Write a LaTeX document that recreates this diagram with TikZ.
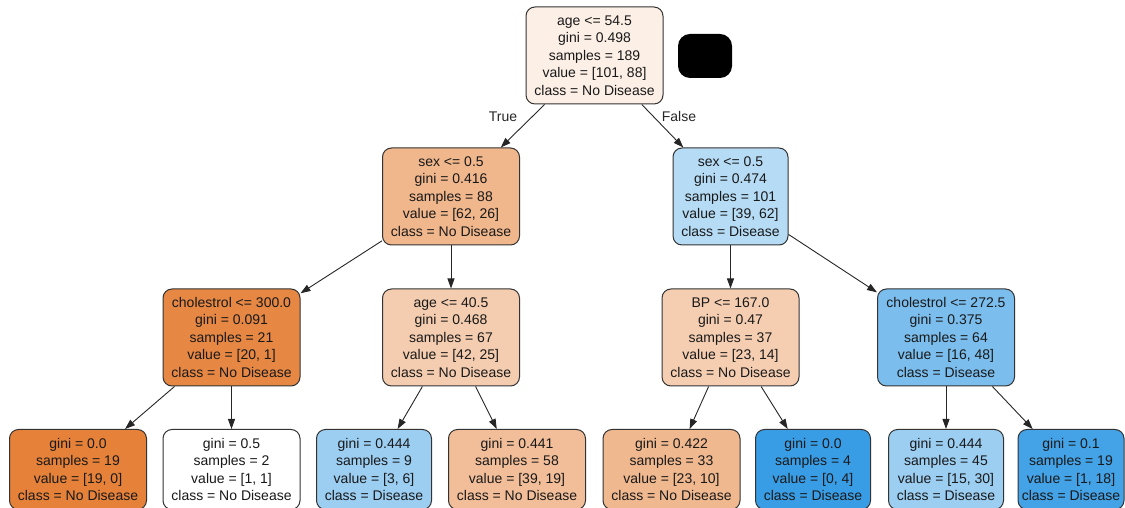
\documentclass[tikz,border=0pt]{standalone}
\usepackage{fontspec}
\setmainfont{Liberation Sans}
\usetikzlibrary{arrows.meta, positioning}
\definecolor{nodis1}{HTML}{FCEFE5}
\definecolor{nodis2}{HTML}{F0B68C}
\definecolor{nodis3}{HTML}{E68744}
\definecolor{nodis4}{HTML}{F4CCAF}
\definecolor{nodis5}{HTML}{F5CEB2}
\definecolor{nodis6}{HTML}{E58139}
\definecolor{nodis7}{HTML}{F2BE99}
\definecolor{nodis8}{HTML}{F0B88F}
\definecolor{dis1}{HTML}{B6DBF5}
\definecolor{dis2}{HTML}{7BBEEE}
\definecolor{dis3}{HTML}{9CCEF2}
\definecolor{dis4}{HTML}{399DE5}
\definecolor{dis5}{HTML}{44A2E6}
\tikzset{
  tnode/.style={rectangle,draw=black!80,line width=1pt,rounded corners=9pt,align=center,inner sep=2pt,text=black!90,font=\fontsize{14}{17.5}\selectfont},
  split/.style={tnode,minimum height=97pt},
  leaf/.style={tnode,minimum height=80pt},
  wide/.style={minimum width=137pt},
  narrow/.style={minimum width=115pt},
  lbl/.style={text=black!85,font=\fontsize{14}{17}\selectfont},
  line/.style={-{Triangle[length=10pt,width=7pt]},line width=0.9pt,draw=black!85}
}

\begin{document}
\begin{tikzpicture}[x=1pt,y=1pt]
\useasboundingbox (0,0) rectangle (1125,508);
\node[split, wide, fill=nodis1] (root) at (594.5,452.5) {age <= 54.5\\gini = 0.498\\samples = 189\\value = [101, 88]\\class = No Disease};
\node[fill=black, rounded corners=12pt, minimum width=54pt, minimum height=44pt, inner sep=0pt] (mask) at (705,452) {};
\node[split, wide, fill=nodis2, below=43pt of root, xshift=-143.5pt] (sexl) {sex <= 0.5\\gini = 0.416\\samples = 88\\value = [62, 26]\\class = No Disease};
\node[split, narrow, fill=dis1, below=43pt of root, xshift=136pt] (sexr) {sex <= 0.5\\gini = 0.474\\samples = 101\\value = [39, 62]\\class = Disease};
\node[split, wide, fill=nodis3, below=43pt of sexl, xshift=-219.5pt] (chola) {cholestrol <= 300.0\\gini = 0.091\\samples = 21\\value = [20, 1]\\class = No Disease};
\node[split, wide, fill=nodis4, below=43pt of sexl] (agea) {age <= 40.5\\gini = 0.468\\samples = 67\\value = [42, 25]\\class = No Disease};
\node[split, wide, fill=nodis5, below=43pt of sexr] (bp) {BP <= 167.0\\gini = 0.47\\samples = 37\\value = [23, 14]\\class = No Disease};
\node[split, wide, fill=dis2, below=43pt of sexr, xshift=215.5pt] (cholb) {cholestrol <= 272.5\\gini = 0.375\\samples = 64\\value = [16, 48]\\class = Disease};
% leaves
\node[leaf, wide, fill=nodis6, below=42.5pt of chola, xshift=-153.5pt] (l1) {gini = 0.0\\samples = 19\\value = [19, 0]\\class = No Disease};
\node[leaf, wide, fill=white, below=42.5pt of chola] (l2) {gini = 0.5\\samples = 2\\value = [1, 1]\\class = No Disease};
\node[leaf, narrow, fill=dis3, below=42.5pt of agea, xshift=-77pt] (l3) {gini = 0.444\\samples = 9\\value = [3, 6]\\class = Disease};
\node[leaf, wide, fill=nodis7, below=42.5pt of agea, xshift=66pt] (l4) {gini = 0.441\\samples = 58\\value = [39, 19]\\class = No Disease};
\node[leaf, wide, fill=nodis8, below=42.5pt of bp, xshift=-59pt] (l5) {gini = 0.422\\samples = 33\\value = [23, 10]\\class = No Disease};
\node[leaf, narrow, fill=dis4, below=42.5pt of bp, xshift=82.5pt] (l6) {gini = 0.0\\samples = 4\\value = [0, 4]\\class = Disease};
\node[leaf, narrow, fill=dis3, below=42.5pt of cholb] (l7) {gini = 0.444\\samples = 45\\value = [15, 30]\\class = Disease};
\node[leaf, minimum width=106pt, fill=dis5, below=42.5pt of cholb, xshift=125pt] (l8) {gini = 0.1\\samples = 19\\value = [1, 18]\\class = Disease};
\node[lbl] (true) at (503,391) {True};
\node[lbl] (false) at (679,391) {False};
\draw[line] (root) -- (sexl);
\draw[line] (root) -- (sexr);
\draw[line] (sexl) -- (chola);
\draw[line] (sexl) -- (agea);
\draw[line] (sexr) -- (bp);
\draw[line] (sexr) -- (cholb);
\draw[line] (chola) -- (l1);
\draw[line] (chola) -- (l2);
\draw[line] (agea) -- (l3);
\draw[line] (agea) -- (l4);
\draw[line] (bp) -- (l5);
\draw[line] (bp) -- (l6);
\draw[line] (cholb) -- (l7);
\draw[line] (cholb) -- (l8);
\end{tikzpicture}
\end{document}
